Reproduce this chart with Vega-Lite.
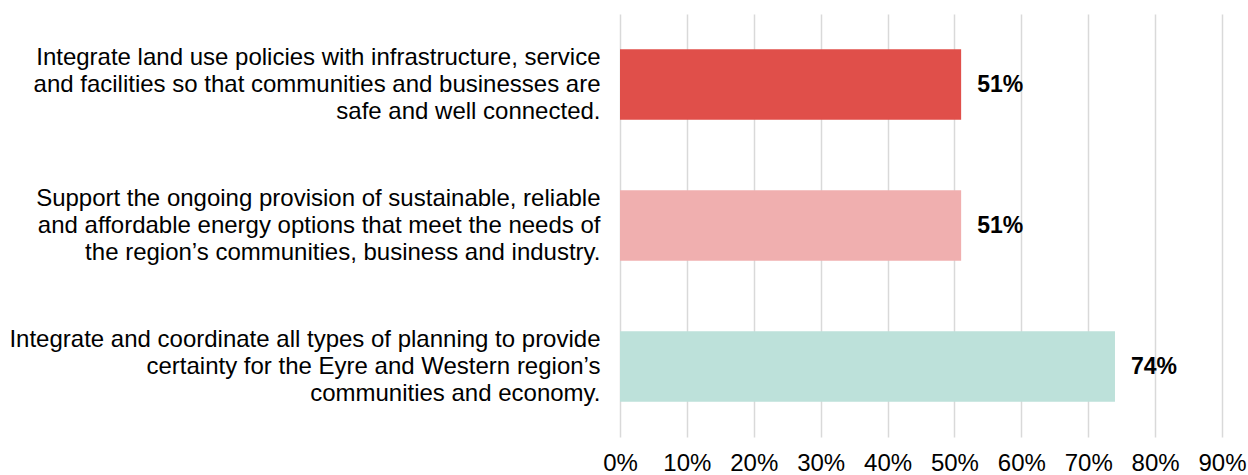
{
  "$schema": "https://vega.github.io/schema/vega-lite/v6.json",
  "autosize": {"type": "none"},
  "padding": {"left": 620, "top": 14, "right": 26, "bottom": 38},
  "width": 602,
  "height": 423,
  "background": "white",
  "config": {"view": {"stroke": null}, "font": "Liberation Sans"},
  "data": {
    "values": [
      {"item": "Integrate land use policies with infrastructure, service|and facilities so that communities and businesses are|safe and well connected.", "value": 0.51, "group": "a"},
      {"item": "Support the ongoing provision of sustainable, reliable|and affordable energy options that meet the needs of|the region’s communities, business and industry.", "value": 0.51, "group": "b"},
      {"item": "Integrate and coordinate all types of planning to provide|certainty for the Eyre and Western region’s|communities and economy.", "value": 0.74, "group": "c"}
    ]
  },
  "encoding": {
    "y": {
      "field": "item", "type": "nominal", "sort": null,
      "scale": {"paddingInner": 0.5, "paddingOuter": 0.25},
      "axis": {
        "title": null, "domain": false, "ticks": false,
        "labelExpr": "split(datum.label, '|')",
        "labelFontSize": 24, "labelColor": "#000000", "labelPadding": 20,
        "labelLimit": 700, "labelLineHeight": 27, "labelOffset": -27, "labelFont": "Liberation Sans"
      }
    },
    "x": {
      "field": "value", "type": "quantitative",
      "scale": {"domain": [0, 0.9]},
      "axis": {
        "title": null, "format": ".0%", "values": [0, 0.1, 0.2, 0.3, 0.4, 0.5, 0.6, 0.7, 0.8, 0.9],
        "domain": false, "ticks": false, "grid": true, "gridColor": "#d9d9d9", "gridWidth": 1.5,
        "labelFlush": false, "labelOverlap": false, "labelBound": false,
        "labelFontSize": 24, "labelColor": "#000000", "labelPadding": 14, "labelFont": "Liberation Sans"
      }
    }
  },
  "layer": [
    {
      "mark": {"type": "bar"},
      "encoding": {
        "color": {
          "field": "group", "type": "nominal", "legend": null,
          "scale": {"domain": ["a", "b", "c"], "range": ["#E04F4A", "#F0AFAF", "#BDE1DA"]}
        }
      }
    },
    {
      "mark": {"type": "text", "align": "left", "baseline": "middle", "dx": 16, "fontSize": 23, "fontWeight": "bold", "color": "#000000", "font": "Liberation Sans"},
      "encoding": {"text": {"field": "value", "type": "quantitative", "format": ".0%"}}
    }
  ]
}
